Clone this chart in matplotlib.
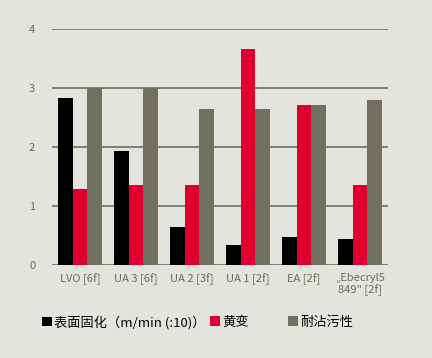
import matplotlib
matplotlib.use("Agg")
import matplotlib.pyplot as plt
import numpy as np
from matplotlib.patches import Patch

# ============================================================
# Data
# ============================================================

categories = ["LVO [6f]", "UA 3 [6f]", "UA 2 [3f]", "UA 1 [2f]", "EA [2f]", "„Ebecryl5\n849\" [2f]"]

surface_cure = [2.83, 1.94, 0.64, 0.33, 0.47, 0.44]
yellowing = [1.28, 1.35, 1.35, 3.67, 2.72, 1.35]
stain_resistance = [3.0, 3.0, 2.64, 2.64, 2.72, 2.79]

series_labels = ["表面固化（m/min (:10)）", "黄变", "耐沾污性"]
y_ticks = [0, 1, 2, 3, 4]

# ============================================================
# Style
# ============================================================

BG = "#e4e4df"
BLACK = "#000000"
RED = "#e0002f"
GRAY = "#716f60"
GRID = "#6e6d5e"
TICK = "#6b6a5c"

plt.rcParams["font.family"] = ["Liberation Sans Narrow", "Noto Sans CJK SC", "DejaVu Sans"]

fig = plt.figure(figsize=(4.32, 3.58), dpi=100, facecolor=BG)
ax = fig.add_axes([0.120, 0.2606, 0.778, 0.6576], facecolor=BG)

x = np.arange(len(categories))
width = 0.26

ax.bar(x - width, surface_cure, width, color=BLACK, zorder=3)
ax.bar(x, yellowing, width, color=RED, zorder=3)
ax.bar(x + width, stain_resistance, width, color=GRAY, zorder=3)

ax.set_xlim(-0.5, len(categories) - 0.5)
ax.set_ylim(0, 4)
ax.set_yticks(y_ticks)
ax.set_yticklabels([str(t) for t in y_ticks])
for t in y_ticks:
    ax.axhline(t, color=GRID, linewidth=1.2, zorder=1)

ax.set_xticks(x)
ax.set_xticklabels(categories, linespacing=1.1)
ax.tick_params(axis="both", length=0, colors=TICK, labelsize=8)
ax.tick_params(axis="x", pad=6)
ax.tick_params(axis="y", pad=12)

for spine in ax.spines.values():
    spine.set_visible(False)

# ============================================================
# Legend (three separate entries, spaced as in the source)
# ============================================================

colors = [BLACK, RED, GRAY]
positions = [0.097, 0.486, 0.667]

for label, color, xpos in zip(series_labels, colors, positions):
    fig.legend(
        handles=[Patch(facecolor=color, edgecolor="none", label=label)],
        loc="center left",
        bbox_to_anchor=(xpos, 0.1),
        frameon=False,
        handlelength=0.75,
        handleheight=0.75,
        handletextpad=0.2,
        borderaxespad=0,
        borderpad=0,
        prop={"family": ["Noto Sans CJK SC", "DejaVu Sans"], "size": 9.5},
    )

fig.savefig("out.png", dpi=100, facecolor=BG)
